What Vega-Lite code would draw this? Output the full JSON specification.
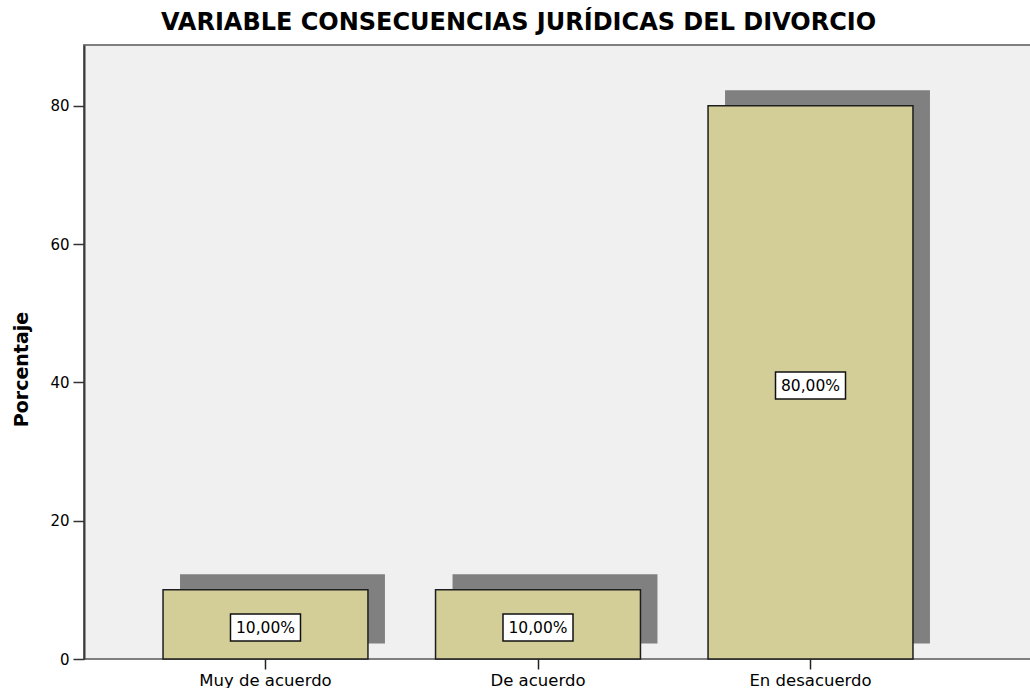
{
  "$schema": "https://vega.github.io/schema/vega-lite/v6.json",
  "autosize": "none",
  "width": 947,
  "height": 614,
  "padding": {"left": 84, "top": 45, "right": 0, "bottom": 29},
  "background": "white",
  "config": {
    "view": {"fill": "#F0F0F0", "stroke": "#7f7f7f", "strokeWidth": 2},
    "font": "DejaVu Sans"
  },
  "title": {
    "text": "VARIABLE CONSECUENCIAS JURÍDICAS DEL DIVORCIO",
    "font": "DejaVu Sans",
    "fontSize": 24,
    "fontWeight": "bold",
    "color": "#000000",
    "anchor": "middle",
    "baseline": "alphabetic",
    "offset": 10,
    "dx": -39,
    "dy": 19
  },
  "data": {
    "values": [
      {"cat": "Muy de acuerdo", "pct": 10, "label": "10,00%"},
      {"cat": "De acuerdo", "pct": 10, "label": "10,00%"},
      {"cat": "En desacuerdo", "pct": 80, "label": "80,00%"}
    ]
  },
  "encoding": {
    "x": {
      "field": "cat",
      "type": "nominal",
      "sort": null,
      "scale": {"range": [0, 908], "paddingInner": 0.248, "paddingOuter": 0.29},
      "axis": {
        "title": null,
        "labelAngle": 0,
        "labelFont": "DejaVu Sans",
        "labelFontSize": 16.5,
        "labelColor": "#000000",
        "labelPadding": 3,
        "tickSize": 10,
        "tickColor": "#222222",
        "tickWidth": 1.5,
        "domain": false
      }
    }
  },
  "layer": [
    {
      "mark": {"type": "bar", "fill": "#808080", "xOffset": 17, "yOffset": -15.5, "y2Offset": -14},
      "encoding": {
        "y": {"field": "pct", "type": "quantitative", "scale": {"domain": [0, 88.8], "nice": false}, "axis": null}
      }
    },
    {
      "mark": {"type": "bar", "fill": "#D3CE98", "stroke": "#1e1e1e", "strokeWidth": 1.5},
      "encoding": {
        "y": {
          "field": "pct",
          "type": "quantitative",
          "scale": {"domain": [0, 88.8], "nice": false},
          "axis": {
            "title": "Porcentaje",
            "titleFont": "DejaVu Sans",
            "titleFontSize": 19,
            "titleFontWeight": "bold",
            "titleColor": "#000000",
            "titlePadding": 18,
            "titleY": 324,
            "values": [0, 20, 40, 60, 80],
            "grid": false,
            "labelFont": "DejaVu Sans",
            "labelFontSize": 15,
            "labelColor": "#000000",
            "labelPadding": 4,
            "tickSize": 11,
            "tickColor": "#333333",
            "tickWidth": 1.5,
            "domainColor": "#3a3a3a",
            "domainWidth": 2
          }
        }
      }
    },
    {
      "mark": {"type": "rule", "color": "#000000", "strokeWidth": 1.5},
      "encoding": {
        "y": {"datum": 0, "type": "quantitative", "scale": {"domain": [0, 88.8], "nice": false}, "axis": null}
      }
    },
    {
      "mark": {"type": "bar", "width": 70, "fill": "white", "stroke": "#111111", "strokeWidth": 1.5, "yOffset": -10.5, "y2Offset": 16.5},
      "encoding": {
        "y": {"field": "pct", "type": "quantitative", "scale": {"domain": [0, 177.6], "nice": false}, "axis": null},
        "y2": {"field": "pct"}
      }
    },
    {
      "mark": {"type": "text", "font": "DejaVu Sans", "fontSize": 15.5, "color": "#000000", "baseline": "alphabetic", "align": "center", "dy": 9},
      "encoding": {
        "y": {"field": "pct", "type": "quantitative", "scale": {"domain": [0, 177.6], "nice": false}, "axis": null},
        "text": {"field": "label"}
      }
    }
  ],
  "resolve": {"scale": {"y": "independent"}}
}
